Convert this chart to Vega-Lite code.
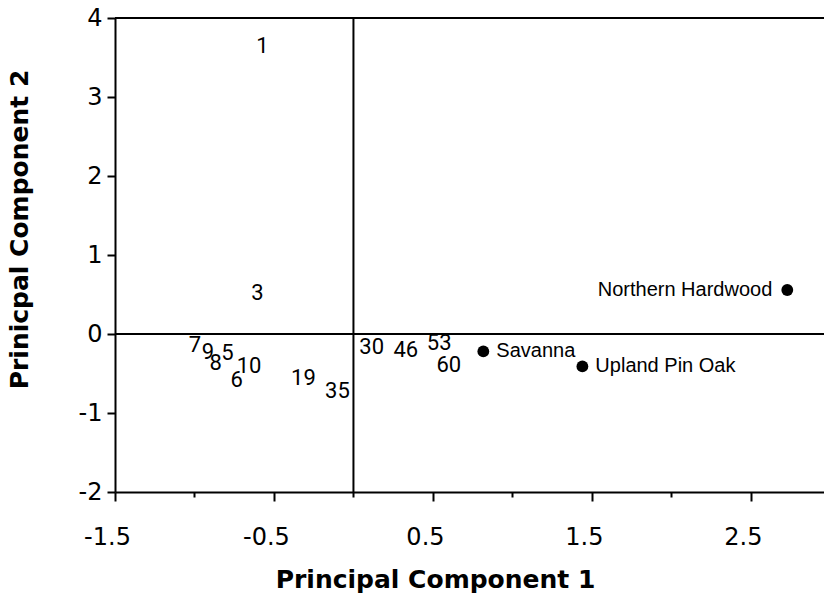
{
  "$schema": "https://vega.github.io/schema/vega-lite/v6.json",
  "width": 709,
  "height": 474,
  "autosize": "none",
  "padding": {"left": 115, "top": 18, "right": 0, "bottom": 113},
  "background": "white",
  "config": {
    "view": {"stroke": null},
    "axis": {
      "domainColor": "black", "domainWidth": 2, "tickColor": "black", "tickWidth": 2,
      "labelColor": "black", "titleColor": "black", "grid": false,
      "labelFont": "DejaVu Sans", "labelFontSize": 24, "titleFont": "DejaVu Sans",
      "titleFontWeight": "bold", "titleFontSize": 25
    }
  },
  "datasets": {
    "sites": [
      {"label": "1", "pc1": -0.573, "pc2": 3.64},
      {"label": "3", "pc1": -0.604, "pc2": 0.515},
      {"label": "7", "pc1": -0.997, "pc2": -0.139},
      {"label": "9", "pc1": -0.915, "pc2": -0.224},
      {"label": "5", "pc1": -0.793, "pc2": -0.244},
      {"label": "10", "pc1": -0.657, "pc2": -0.405},
      {"label": "8", "pc1": -0.867, "pc2": -0.371},
      {"label": "6", "pc1": -0.735, "pc2": -0.582},
      {"label": "19", "pc1": -0.315, "pc2": -0.561},
      {"label": "35", "pc1": -0.101, "pc2": -0.717},
      {"label": "30", "pc1": 0.115, "pc2": -0.16},
      {"label": "46", "pc1": 0.329, "pc2": -0.2},
      {"label": "53", "pc1": 0.539, "pc2": -0.118},
      {"label": "60", "pc1": 0.6, "pc2": -0.392}
    ],
    "types": [
      {"label": "Savanna", "pc1": 0.817, "pc2": -0.22},
      {"label": "Upland Pin Oak", "pc1": 1.44, "pc2": -0.41},
      {"label": "Northern Hardwood", "pc1": 2.729, "pc2": 0.557}
    ]
  },
  "layer": [
    {
      "data": {"name": "types"},
      "mark": {"type": "point", "filled": true, "color": "black", "opacity": 1, "size": 140},
      "encoding": {
        "x": {
          "field": "pc1", "type": "quantitative",
          "scale": {"domain": [-1.5, 2.96], "nice": false, "zero": false},
          "axis": {
            "title": "Principal Component 1",
            "values": [-1.5, -1, -0.5, 0, 0.5, 1, 1.5, 2, 2.5],
            "labelExpr": "abs(datum.value % 1) === 0.5 ? '' + datum.value : ''",
            "tickSize": {"condition": {"test": "abs(datum.value % 1) === 0.5", "value": 9}, "value": 5},
            "labelPadding": 24,
            "labelOffset": -8,
            "labelFlush": false,
            "titlePadding": 18,
            "titleX": 320
          }
        },
        "y": {
          "field": "pc2", "type": "quantitative",
          "scale": {"domain": [-2, 4], "nice": false, "zero": false},
          "axis": {
            "title": "Prinicpal Component 2",
            "values": [-2, -1.5, -1, -0.5, 0, 0.5, 1, 1.5, 2, 2.5, 3, 3.5, 4],
            "labelExpr": "datum.value % 1 === 0 ? '' + datum.value : ''",
            "tickSize": {"condition": {"test": "datum.value % 1 === 0", "value": 8}, "value": 4},
            "labelPadding": 5,
            "labelFlush": false,
            "titlePadding": 46,
            "titleY": 211
          }
        }
      }
    },
    {
      "data": {"name": "types"},
      "transform": [{"filter": "datum.label !== 'Northern Hardwood'"}],
      "mark": {"type": "text", "align": "left", "baseline": "middle", "dx": 13, "font": "Liberation Sans", "fontSize": 20, "color": "black"},
      "encoding": {
        "x": {"field": "pc1", "type": "quantitative"},
        "y": {"field": "pc2", "type": "quantitative"},
        "text": {"field": "label"}
      }
    },
    {
      "data": {"name": "types"},
      "transform": [{"filter": "datum.label === 'Northern Hardwood'"}],
      "mark": {"type": "text", "align": "right", "baseline": "middle", "dx": -15, "font": "Liberation Sans", "fontSize": 20, "color": "black"},
      "encoding": {
        "x": {"field": "pc1", "type": "quantitative"},
        "y": {"field": "pc2", "type": "quantitative"},
        "text": {"field": "label"}
      }
    },
    {
      "data": {"name": "sites"},
      "mark": {"type": "text", "align": "center", "baseline": "middle", "font": "Roboto", "fontSize": 22, "color": "black"},
      "encoding": {
        "x": {"field": "pc1", "type": "quantitative"},
        "y": {"field": "pc2", "type": "quantitative"},
        "text": {"field": "label"}
      }
    },
    {
      "data": {"values": [{}]},
      "mark": {"type": "rule", "color": "black", "strokeWidth": 2},
      "encoding": {"y": {"datum": 0}}
    },
    {
      "data": {"values": [{}]},
      "mark": {"type": "rule", "color": "black", "strokeWidth": 2},
      "encoding": {"x": {"datum": 0}}
    },
    {
      "data": {"values": [{}]},
      "mark": {"type": "rule", "color": "black", "strokeWidth": 2},
      "encoding": {"y": {"datum": 4}}
    }
  ]
}
